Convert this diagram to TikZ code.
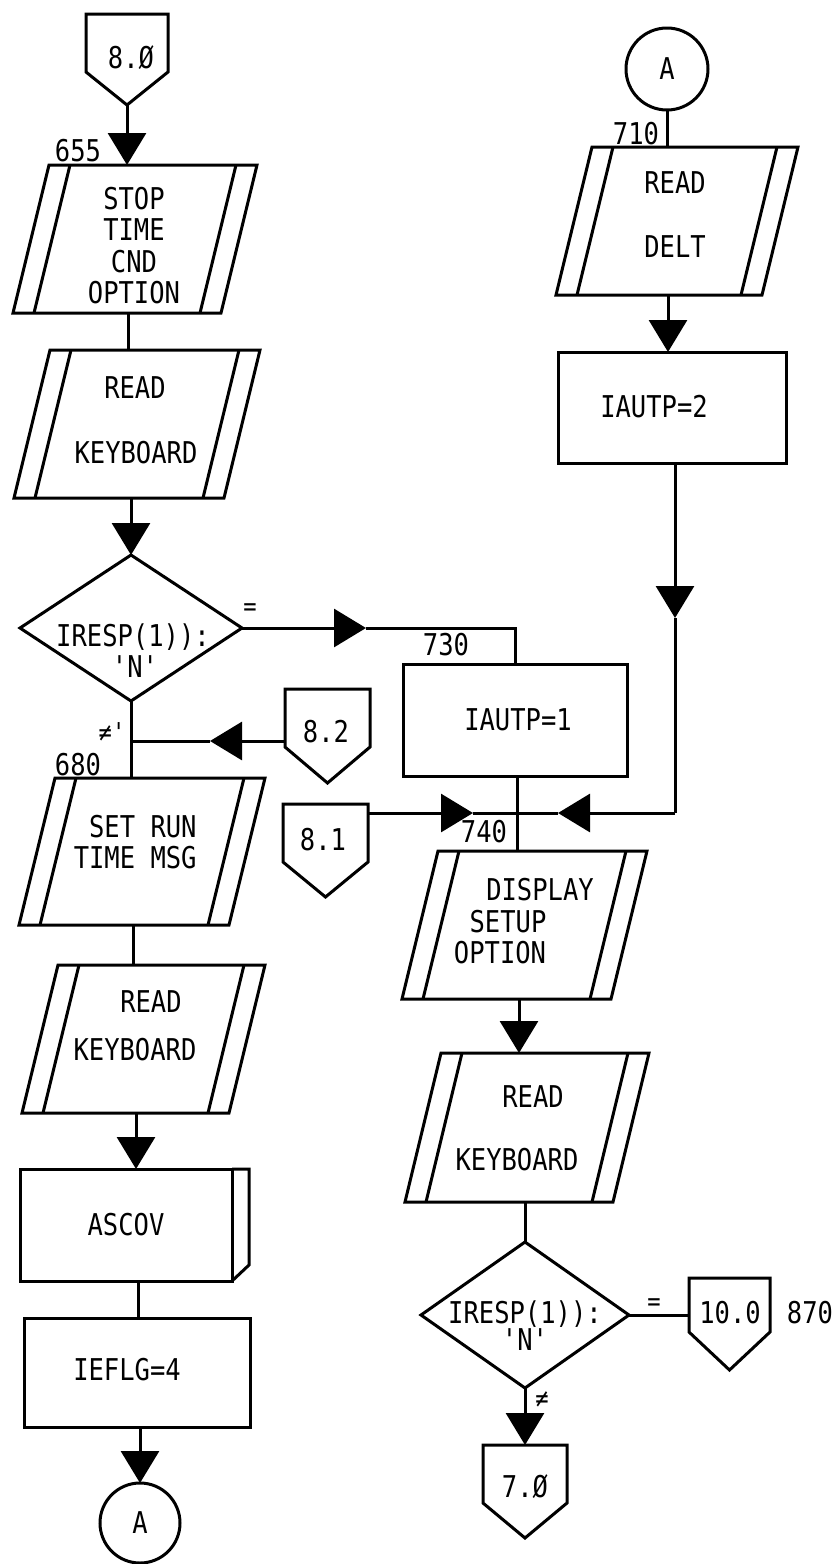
\documentclass[tikz,border=0pt]{standalone}
\usepackage{fontspec}
\newfontfamily\chartfont{DejaVu Sans Mono}[FakeStretch=0.85]
\usetikzlibrary{arrows.meta}
\newcommand\stripebox[4]{% #1 top y, #2 bottom y, #3 top-left x, #4 top-right x
  \draw[shp] (#3,#1) -- (#4,#1) -- (#4-36,#2) -- (#3-36,#2) -- cycle;
  \draw[shp] (#3+21,#1) -- (#3-15,#2);
  \draw[shp] (#4-21,#1) -- (#4-57,#2);
}
\newcommand\offpage[5]{% #1 left x, #2 right x, #3 top y, #4 shoulder y, #5 tip y
  \draw[shp] (#1,#3) -- (#2,#3) -- (#2,#4) -- ({(#1+#2)/2},#5) -- (#1,#4) -- cycle;
}
\begin{document}
\begin{tikzpicture}[x=0.5pt,y=-0.5pt,
  lbl/.style={font=\chartfont\fontsize{15}{15.5}\selectfont, inner sep=0pt, text height=10.9pt, text depth=0pt},
  note/.style={font=\chartfont\fontsize{13}{13}\selectfont, inner sep=0pt},
  shp/.style={line width=1.5pt, line join=miter},
  con/.style={line width=1.5pt},
  arr/.style={line width=1.5pt, -{Triangle[width=19pt,length=16pt]}}]
\fill[white] (0,0) rectangle (840,1564);
\useasboundingbox (0,0) rectangle (840,1564);

% ---------------- left column ----------------
\offpage{86}{168}{14}{72}{105}
\node[lbl] (t80) at (131,58) {8.Ø};
\coordinate (p80tip) at (127,105);

\stripebox{165}{313}{49}{257}
\node[lbl] (l655) at (78,151) {655};
\node[lbl] (t1a) at (134,199) {STOP};
\node[lbl] (t1b) at (134,230) {TIME};
\node[lbl] (t1c) at (134,262) {CND};
\node[lbl] (t1d) at (134,293) {OPTION};
\coordinate (b1top) at (127,165);
\coordinate (b1bot) at (128,313);

\stripebox{350}{498}{50}{260}
\node[lbl] (t2a) at (135,388) {READ};
\node[lbl] (t2b) at (136,453) {KEYBOARD};
\coordinate (b2top) at (128,350);
\coordinate (b2bot) at (131,498);

\draw[shp] (131,555) -- (242,628) -- (131,701) -- (20,628) -- cycle;
\node[lbl] (td1a) at (133,636) {IRESP(1)):};
\node[lbl] (td1b) at (135,667) {'N'};
\node[note] (eq1) at (250,610) {=};
\coordinate (d1top) at (131,555);
\coordinate (d1right) at (242,628);
\coordinate (d1bot) at (131,701);

\offpage{285}{370}{689}{747}{783}
\node[lbl] (t82) at (326,732) {8.2};
\coordinate (p82left) at (285,741);
\coordinate (j1) at (131,741);
\coordinate (a82) at (210,741);
\node[note] (ne1) at (112,732) {≠'};
\node[lbl] (l680) at (78,765) {680};

\stripebox{778}{925}{55}{265}
\node[lbl, anchor=east] (t3a) at (197,827) {SET RUN};
\node[lbl, anchor=east] (t3b) at (197,858) {TIME MSG};
\coordinate (b3top) at (131,778);
\coordinate (b3bot) at (133,925);

\stripebox{965}{1113}{58}{265}
\node[lbl] (t4a) at (151,1002) {READ};
\node[lbl] (t4b) at (135,1050) {KEYBOARD};
\coordinate (b4top) at (133,965);
\coordinate (b4bot) at (136,1113);

\draw[shp] (20,1169) rectangle (232,1281);
\draw[shp] (232,1169) -- (249,1169) -- (249,1265) -- (232,1281);
\node[lbl] (t5) at (126,1225) {ASCOV};
\coordinate (r1top) at (136,1169);
\coordinate (r1bot) at (138,1281);

\draw[shp] (24,1318) rectangle (250,1427);
\node[lbl] (t6) at (127,1370) {IEFLG=4};
\coordinate (r2top) at (138,1318);
\coordinate (r2bot) at (140,1427);

\draw[shp] (140,1523) circle (40);
\node[lbl] (tc1) at (140,1523) {A};
\coordinate (c1top) at (140,1483);

% ---------------- right column ----------------
\draw[shp] (667,69) circle (41);
\node[lbl] (tc2) at (667,69) {A};
\coordinate (c2bot) at (667,110);

\stripebox{147}{295}{592}{798}
\node[lbl] (l710) at (636,134) {710};
\node[lbl] (t7a) at (675,183) {READ};
\node[lbl] (t7b) at (675,247) {DELT};
\coordinate (b5top) at (667,147);
\coordinate (b5bot) at (668,295);

\draw[shp] (558,352) rectangle (786,463);
\node[lbl] (t8) at (654,407) {IAUTP=2};
\coordinate (r3top) at (668,352);
\coordinate (r3bot) at (675,463);
\coordinate (a3) at (675,618);
\coordinate (k3) at (675,813);
\coordinate (a3b) at (558,813);

\node[lbl] (l730) at (446,645) {730};
\coordinate (a1) at (366,628);
\coordinate (k1) at (515,628);
\draw[shp] (403,664) rectangle (627,776);
\node[lbl] (t9) at (518,720) {IAUTP=1};
\coordinate (r4top) at (515,664);
\coordinate (r4bot) at (517,776);

\offpage{283}{368}{804}{862}{897}
\node[lbl] (t81) at (323,840) {8.1};
\coordinate (p81right) at (368,813);
\coordinate (a81) at (473,813);
\coordinate (j2) at (517,813);

\node[lbl] (l740) at (484,832) {740};
\stripebox{851}{999}{438}{647}
\node[lbl] (t10a) at (540,890) {DISPLAY};
\node[lbl] (t10b) at (508,922) {SETUP};
\node[lbl] (t10c) at (500,953) {OPTION};
\coordinate (b6top) at (517,851);
\coordinate (b6bot) at (519,999);

\stripebox{1053}{1202}{441}{649}
\node[lbl] (t11a) at (533,1097) {READ};
\node[lbl] (t11b) at (517,1160) {KEYBOARD};
\coordinate (b7top) at (519,1053);
\coordinate (b7bot) at (525,1202);

\draw[shp] (525,1242) -- (629,1315) -- (525,1388) -- (421,1315) -- cycle;
\node[lbl] (td2a) at (525,1313) {IRESP(1)):};
\node[lbl] (td2b) at (525,1340) {'N'};
\node[note] (eq2) at (654,1305) {=};
\node[note] (ne2) at (542,1400) {≠};
\coordinate (d2top) at (525,1242);
\coordinate (d2right) at (629,1315);
\coordinate (d2bot) at (525,1388);

\offpage{689}{770}{1278}{1332}{1370}
\node[lbl] (t100) at (730,1313) {10.0};
\node[lbl] (l870) at (810,1313) {870};
\coordinate (p10left) at (689,1315);

\offpage{483}{567}{1445}{1503}{1538}
\node[lbl] (t70) at (525,1487) {7.Ø};
\coordinate (p7top) at (525,1445);

% ---------------- connectors ----------------
\draw[arr] (p80tip) -- (b1top);
\draw[con] (b1bot) -- (b1bot |- b2top);
\draw[arr] (b2bot) -- (d1top);
\draw[arr] (d1right) -- (a1);
\draw[con] (a1) -- (k1) -- (r4top);
\draw[con] (d1bot) -- (b3top);
\draw[arr] (p82left) -- (a82);
\draw[con] (a82) -- (j1);
\draw[con] (b3bot) -- (b4top);
\draw[arr] (b4bot) -- (b4bot |- r1top);
\draw[con] (r1bot) -- (r2top);
\draw[arr] (r2bot) -- (c1top);

\draw[con] (c2bot) -- (b5top);
\draw[arr] (b5bot) -- (r3top);
\draw[arr] (r3bot) -- (a3);
\draw[con] (a3) -- (k3);
\draw[arr] (k3) -- (a3b);
\draw[con] (a3b) -- (j2);
\draw[arr] (p81right) -- (a81);
\draw[con] (a81) -- (j2);
\draw[con] (r4bot) -- (b6top);
\draw[arr] (b6bot) -- (b7top);
\draw[con] (b7bot) -- (d2top);
\draw[con] (d2right) -- (p10left);
\draw[arr] (d2bot) -- (p7top);
\end{tikzpicture}
\end{document}
